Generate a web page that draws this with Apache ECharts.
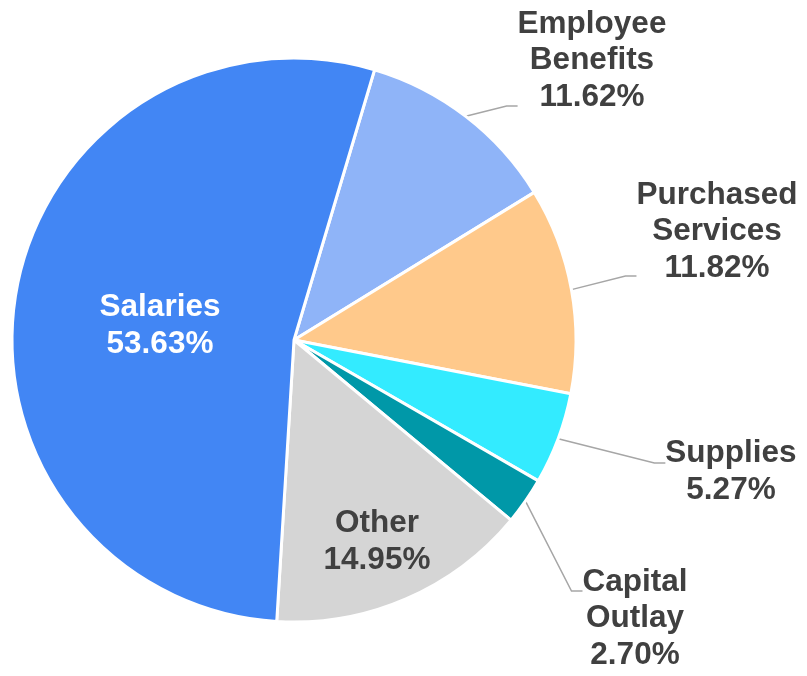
<!DOCTYPE html>
<html>
<head>
<meta charset="utf-8">
<script src="https://cdn.jsdelivr.net/npm/echarts@6/dist/echarts.min.js"></script>
<style>
  html, body { margin: 0; padding: 0; background: #fff; }
  #chart { width: 807px; height: 676px; }
</style>
</head>
<body>
<div id="chart"></div>
<script>
// budget shares, clockwise from the Salaries / Employee Benefits edge
const categories = ["Employee Benefits", "Purchased Services", "Supplies", "Capital Outlay", "Other", "Salaries"];
const shares = [11.62, 11.82, 5.27, 2.70, 14.95, 53.63];
const colors = ["#8FB4F8", "#FFC98B", "#33EBFF", "#0098A8", "#D5D5D5", "#4286F4"];

// label placement (centre of label box) and vertical padding [top, bottom]
const labelAt = [[592, 106], [717, 276], [731, 463], [635, 591], [377, 542], [160, 326]];
const labelPad = [[4, 95], [4, 93], [18, 0], [55, 0], [0, 0], [0, 0]];
const insideIdx = [4, 5];

const chart = echarts.init(document.getElementById("chart"));

const pieData = categories.map((name, i) => {
  const inside = insideIdx.indexOf(i) >= 0;
  return {
    name: name,
    value: shares[i],
    itemStyle: { color: colors[i] },
    label: {
      position: inside ? "inside" : "outside",
      padding: [labelPad[i][0], 0, labelPad[i][1], 0]
    },
    labelLine: { show: !inside }
  };
});

const font = "Liberation Sans, Arial, sans-serif";

chart.setOption({
  animation: false,
  series: [
    {
      type: "pie",
      center: [294, 340],
      radius: 282,
      startAngle: 73.4,
      clockwise: true,
      avoidLabelOverlap: false,
      itemStyle: { borderColor: "#fff", borderWidth: 3 },
      label: {
        show: true,
        backgroundColor: "rgba(0,0,0,0)",
        formatter: (p) => {
          const key = p.dataIndex === 5 ? "w" : "t";
          const lines = p.name.split(" ").concat([p.value.toFixed(2) + "%"]);
          return lines.map((s) => "{" + key + "|" + s + "}").join("\n");
        },
        rich: {
          t: { align: "center", color: "#404040", fontSize: 31.5, fontWeight: "bold", lineHeight: 36.5, fontFamily: font },
          w: { align: "center", color: "#ffffff", fontSize: 31.5, fontWeight: "bold", lineHeight: 36.5, fontFamily: font }
        }
      },
      labelLine: {
        show: true,
        length: 15,
        length2: 11,
        minTurnAngle: 60,
        lineStyle: { color: "#A6A6A6", width: 1.5 }
      },
      labelLayout: (p) => ({
        x: labelAt[p.dataIndex][0],
        y: labelAt[p.dataIndex][1],
        align: "center",
        verticalAlign: "middle"
      }),
      data: pieData
    }
  ]
});
</script>
</body>
</html>
